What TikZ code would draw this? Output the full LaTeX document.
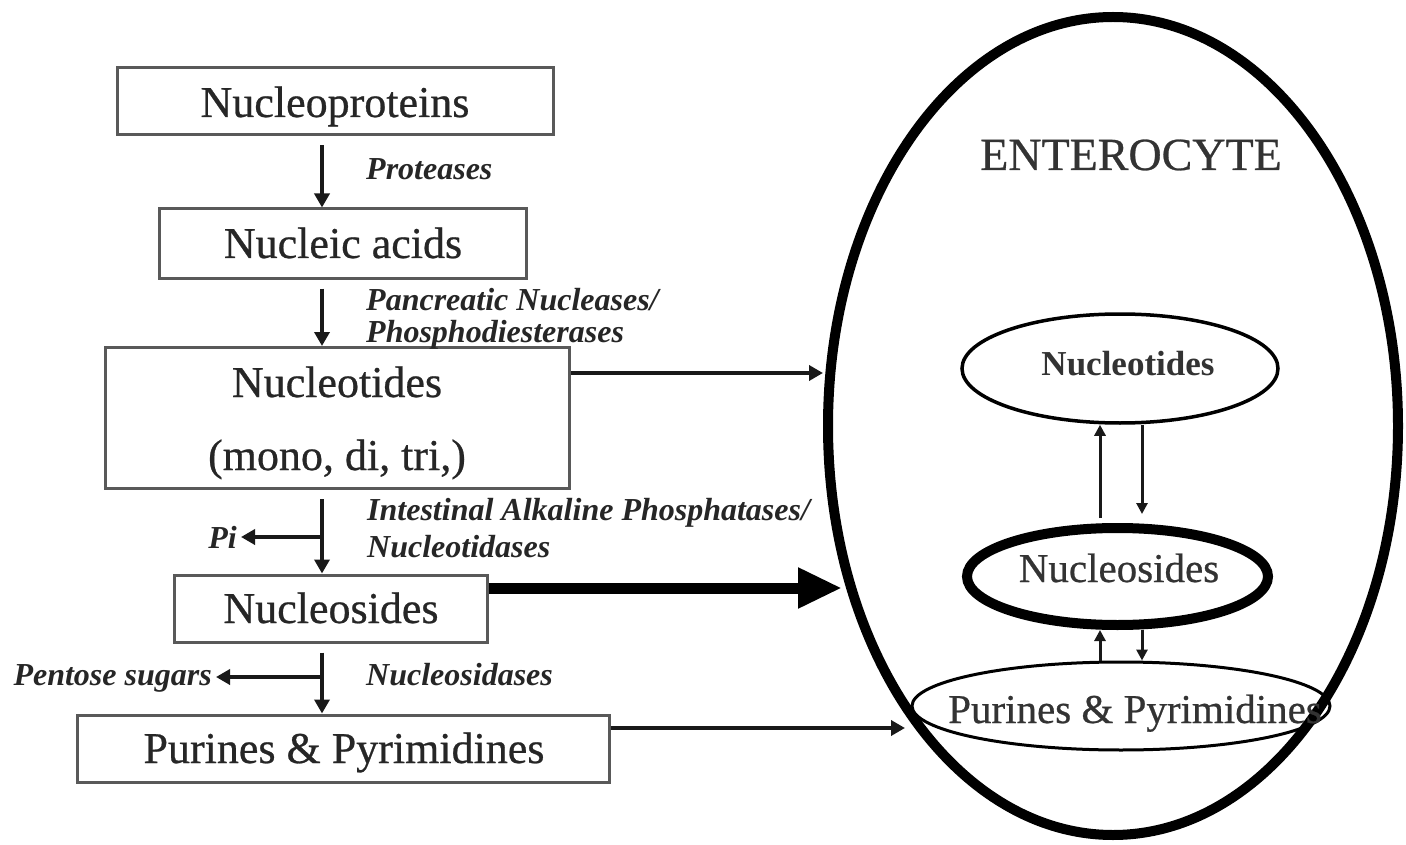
\documentclass[tikz,border=0pt]{standalone}
\usepackage{fontspec}
\setmainfont{Liberation Serif}
\newfontfamily\heavyserif[FakeBold=0.6]{Liberation Serif}
\usetikzlibrary{arrows.meta,shapes.geometric}
\begin{document}
\begin{tikzpicture}[x=1pt,y=-1pt,
  box/.style={draw=black!65, line width=3pt, rectangle, inner sep=0pt},
  lbl/.style={font=\heavyserif\fontsize{44}{52}\selectfont, text=black!85, inner sep=0pt, anchor=base},
  enz/.style={font=\fontsize{32}{38}\selectfont\bfseries\itshape, text=black!85, inner sep=0pt, anchor=base west},
  side/.style={font=\fontsize{32}{38}\selectfont\bfseries\itshape, text=black!85, inner sep=4pt, anchor=base east},
  arr/.style={line width=4pt, draw=black!90, -{Triangle[length=14pt,width=15pt]}},
  thinarr/.style={line width=3pt, draw=black!90, -{Triangle[length=11pt,width=11pt]}},
  fatarr/.style={line width=11pt, draw=black, -{Triangle[length=44pt,width=38pt]}},
  inell/.style={draw=black, ellipse, inner sep=0pt},
  intext/.style={text=black!80, inner sep=0pt, anchor=base}]
\useasboundingbox (0,0) rectangle (1406,845);
\fill[white] (0,0) rectangle (1406,845);

% left column boxes
\node[box, minimum width=436pt, minimum height=67pt] (np) at (335,101.5) {};
\node[box, minimum width=367pt, minimum height=69pt] (na) at (342.5,243.5) {};
\node[box, minimum width=464pt, minimum height=141pt] (nt) at (337.5,418) {};
\node[box, minimum width=313pt, minimum height=67pt] (ns) at (330.5,608.5) {};
\node[box, minimum width=532pt, minimum height=67pt] (pp) at (343,748.5) {};

\node[lbl] (npT) at (335,117) {Nucleoproteins};
\node[lbl] (naT) at (343,258) {Nucleic acids};
\node[lbl] (ntT) at (337,397) {Nucleotides};
\node[lbl] (ntT2) at (337,470) {(mono, di, tri,)};
\node[lbl] (nsT) at (331,623) {Nucleosides};
\node[lbl] (ppT) at (344,763) {Purines \& Pyrimidines};

% enzyme labels
\node[enz] (e1) at (366,180) {Proteases};
\node[enz] (e2) at (366,310) {Pancreatic Nucleases/};
\node[enz] (e3) at (366,342) {Phosphodiesterases};
\node[enz] (e4) at (367,520) {Intestinal Alkaline Phosphatases/};
\node[enz] (e5) at (367,557) {Nucleotidases};
\node[enz] (e6) at (366,685) {Nucleosidases};
\node[side] (pi) at (241,548) {Pi};
\node[side] (ps) at (216,685) {Pentose sugars};

% vertical arrows
\coordinate (ax) at (322,0);
\coordinate (bPi) at (322,537);
\coordinate (bPs) at (322,677);
\draw[arr, shorten <=9pt] (np.south -| ax) -- (na.north -| ax);
\draw[arr, shorten <=9pt] (na.south -| ax) -- (nt.north -| ax);
\draw[arr, shorten <=9pt] (nt.south -| ax) -- (ns.north -| ax);
\draw[arr, shorten <=9pt] (ns.south -| ax) -- (pp.north -| ax);
\draw[arr] (bPi) -- (pi.east |- bPi);
\draw[arr] (bPs) -- (ps.east |- bPs);

% enterocyte
\node[draw=black, line width=10pt, ellipse, minimum width=570pt, minimum height=818pt, inner sep=0pt] (ent) at (1113,426) {};
\node[intext, font=\heavyserif\fontsize{46}{54}\selectfont] (entT) at (1131,170) {ENTEROCYTE};

\node[inell, line width=3.5pt, minimum width=316pt, minimum height=109pt] (i1) at (1120,368.5) {};
\node[inell, line width=10pt, minimum width=301pt, minimum height=97pt] (i2) at (1117.5,576.5) {};
\node[inell, line width=3pt, minimum width=418pt, minimum height=88pt] (i3) at (1121,706) {};
\node[intext, font=\fontsize{35}{42}\selectfont\bfseries] (i1T) at (1128,375) {Nucleotides};
\node[intext, font=\heavyserif\fontsize{41}{48}\selectfont] (i2T) at (1119,582) {Nucleosides};
\node[intext, font=\heavyserif\fontsize{41}{48}\selectfont] (i3T) at (1135,723) {Purines \& Pyrimidines};

% arrows inside the enterocyte
\coordinate (ux) at (1100,0);
\coordinate (dx) at (1142,0);
\draw[thinarr, shorten <=5pt] (i2.north -| ux) -- (i1.south -| ux);
\draw[thinarr, shorten >=9pt] (i1.south -| dx) -- (i2.north -| dx);
\draw[thinarr] (i3.north -| ux) -- (i2.south -| ux);
\draw[thinarr] (i2.south -| dx) -- (i3.north -| dx);

% arrows into the enterocyte
\coordinate (eA) at (823,373);
\coordinate (eB) at (842,588);
\coordinate (eC) at (905,728);
\draw[arr] (nt.east |- eA) -- (eA);
\draw[fatarr] (ns.east |- eB) -- (eB);
\draw[arr] (pp.east |- eC) -- (eC);
\end{tikzpicture}
\end{document}
